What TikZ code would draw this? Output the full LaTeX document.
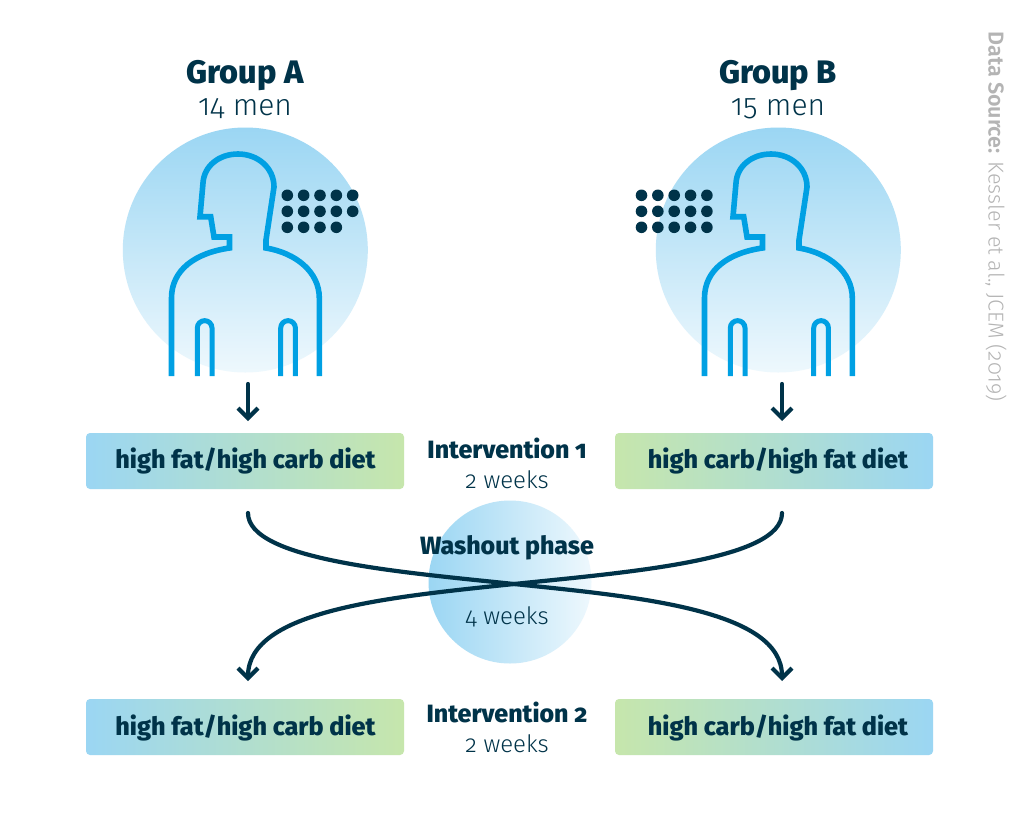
\documentclass[tikz,border=0pt]{standalone}
\usepackage{fontspec}
\setmainfont{Fira Sans Light}[Numbers=OldStyle, BoldFont={Fira Sans ExtraBold}]
\newfontfamily\sourcefont{Fira Sans Light}[Numbers=OldStyle, BoldFont={Fira Sans SemiBold}]
\usetikzlibrary{arrows.meta}
\definecolor{navy}{HTML}{003349}
\definecolor{skyline}{HTML}{00A0E3}
\definecolor{skylight}{HTML}{9BD6F3}
\definecolor{skypale}{HTML}{EEF8FD}
\definecolor{leaf}{HTML}{C6E6AC}
\definecolor{srcgrey}{HTML}{B4B4B4}
\tikzset{
  personline/.style={draw=skyline, line width=5.6pt, miter limit=10},
  armline/.style={draw=skyline, line width=5pt},
  flow/.style={draw=navy, line width=4.2pt, line cap=round, -{Straight Barb[length=10pt,width=20pt,line width=4.2pt]}},
  dietbox/.style={rounded corners=4pt, minimum width=318pt, minimum height=56pt, inner sep=0pt},
  dietlabel/.style={text=navy, font=\fontsize{25.2}{26}\selectfont\bfseries},
  titlelabel/.style={text=navy, font=\fontsize{32.5}{34}\selectfont\bfseries},
  countlabel/.style={text=navy, font=\fontsize{30}{32}\selectfont},
  stagelabel/.style={text=navy, font=\fontsize{25}{26}\selectfont\bfseries},
  weekslabel/.style={text=navy, font=\fontsize{24}{26}\selectfont},
  marker/.style={circle, fill=navy, inner sep=0pt, minimum size=11.6pt}
}
\newcommand{\personshape}[1]{%
  \begin{scope}[xshift=#1]
    \draw[personline] (171.5,376) -- (171.5,298)
      .. controls (171.5,270) and (195,253) .. (229.5,248)
      -- (229.5,237) -- (214,237) -- (210.7,216.7) -- (200,216.7) -- (203,183)
      .. controls (204,166) and (219,154) .. (238,154)
      .. controls (258,154) and (274,168) .. (274,187)
      -- (266,240) -- (266,248)
      .. controls (296,253) and (319.3,272) .. (319.3,298) -- (319.3,376);
    \draw[armline] (197.3,376) -- (197.3,328) arc[start angle=180, end angle=360, radius=7.35] -- (212,376);
    \draw[armline] (280.7,376) -- (280.7,328) arc[start angle=180, end angle=360, radius=7.35] -- (295.4,376);
  \end{scope}}
\begin{document}
\begin{tikzpicture}[x=1pt, y=-1pt]
  \useasboundingbox (0,0) rectangle (1024,822);
  \fill[white] (0,0) rectangle (1024,822);

  % group circles
  \node[circle, inner sep=0pt, minimum size=245pt, top color=skylight, bottom color=skypale] (circleA) at (245.3,250) {};
  \node[circle, inner sep=0pt, minimum size=245pt, top color=skylight, bottom color=skypale] (circleB) at (778.3,250) {};

  \personshape{0pt}
  \personshape{533pt}

  % dots, 14 and 15
  \foreach \r/\c [count=\i] in {0/5,1/5,2/4}
    \foreach \s in {1,...,\c}
      \node[marker] (dotA\i\s) at ({287.3+16.35*(\s-1)},{195.3+16*\r}) {};
  \foreach \r [count=\i] in {0,1,2}
    \foreach \s in {1,...,5}
      \node[marker] (dotB\i\s) at ({641.5+16.35*(\s-1)},{195.3+16*\r}) {};

  \node[titlelabel] (titleA) at (245,75.5) {Group A};
  \node[countlabel] (countA) at (245,109) {14 men};
  \node[titlelabel] (titleB) at (778,75.5) {Group B};
  \node[countlabel] (countB) at (778,109) {15 men};

  % diet boxes
  \node[dietbox, left color=skylight, right color=leaf] (dietA1) at (245,461) {};
  \node[dietbox, left color=leaf, right color=skylight] (dietB1) at (774,461) {};
  \node[dietbox, left color=skylight, right color=leaf] (dietA2) at (245,727) {};
  \node[dietbox, left color=leaf, right color=skylight] (dietB2) at (774,727) {};
  \node[dietlabel] at (245.5,461) {high fat/high carb diet};
  \node[dietlabel] at (778,461) {high carb/high fat diet};
  \node[dietlabel] at (245.5,727.5) {high fat/high carb diet};
  \node[dietlabel] at (778,727.5) {high carb/high fat diet};

  % washout
  \node[circle, inner sep=0pt, minimum size=163pt, left color=skylight, right color=skypale] (washout) at (510,582) {};
  \node[stagelabel] (stage1) at (507,448) {Intervention 1};
  \node[weekslabel] (weeks1) at (507,479.5) {2 weeks};
  \node[stagelabel] (stage2) at (507,548) {Washout phase};
  \node[weekslabel] (weeks2) at (507,616.5) {4 weeks};
  \node[stagelabel] (stage3) at (507,712) {Intervention 2};
  \node[weekslabel] (weeks3) at (507,743.5) {2 weeks};

  % arrows
  \coordinate (startA) at (248,384);
  \coordinate (endA) at (248,421);
  \coordinate (startB) at (782,384);
  \coordinate (endB) at (782,421);
  \coordinate (crossA) at (248,513);
  \coordinate (crossB) at (782,513);
  \coordinate (landA) at (248,681);
  \coordinate (landB) at (782,681);
  \coordinate (centre) at (514,584);
  \draw[flow] (startA) -- (endA);
  \draw[flow] (startB) -- (endB);
  \draw[flow] (crossA) .. controls (248,560) and (400,572) .. (centre)
    .. controls (640,597) and (782,610) .. (landB);
  \draw[flow] (crossB) .. controls (782,560) and (630,572) .. (centre)
    .. controls (390,597) and (248,610) .. (landA);

  \node[rotate=-90, text=srcgrey, font=\sourcefont\fontsize{21.5}{24}\selectfont] (source) at (996,216.5) {\textbf{Data Source:} Kessler et al., JCEM (2019)};
\end{tikzpicture}
\end{document}
